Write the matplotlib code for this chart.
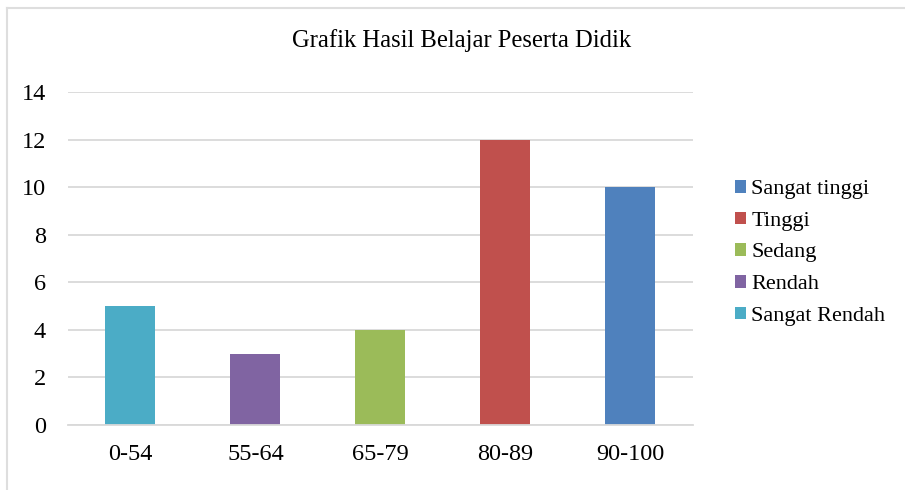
import numpy as np
import matplotlib
matplotlib.use('Agg')
import matplotlib.pyplot as plt
from matplotlib.lines import Line2D

plt.rcParams['font.family'] = ['Liberation Serif', 'DejaVu Serif']

kategori = ['0-54', '55-64', '65-79', '80-89', '90-100']
jumlah = [5, 3, 4, 12, 10]
predikat = ['Sangat Rendah', 'Rendah', 'Sedang', 'Tinggi', 'Sangat tinggi']
warna = ['#4BACC6', '#8064A2', '#9BBB59', '#C0504D', '#4F81BD']
y_ticks = [0, 2, 4, 6, 8, 10, 12, 14]


def grafik():
    fig = plt.figure(figsize=(9.05, 4.9), dpi=100)
    ax = fig.add_axes([0.0751, 0.1327, 0.6906, 0.6795])

    x = np.arange(len(kategori))
    bars = []
    for i in range(len(kategori)):
        b = ax.bar(x[i], jumlah[i], width=0.4, color=warna[i],
                   label=predikat[i], zorder=3)
        bars.append(b)

    ax.set_xlim(-0.5, len(kategori) - 0.5)
    ax.set_ylim(0, 14)
    ax.set_yticks(y_ticks)
    ax.set_xticks(x)
    ax.set_xticklabels(kategori)
    ax.tick_params(axis='both', length=0, labelsize=17.5, colors='black')
    ax.tick_params(axis='y', pad=16)
    ax.tick_params(axis='x', pad=14)

    ax.grid(axis='y', color='#d9d9d9', linewidth=1.3, zorder=0)
    for s in ['top', 'right', 'left']:
        ax.spines[s].set_visible(False)
    ax.spines['bottom'].set_color('#d9d9d9')
    ax.spines['bottom'].set_linewidth(1.3)
    ax.spines['bottom'].set_zorder(4)

    fig.text(0.5095, 0.917, 'Grafik Hasil Belajar Peserta Didik',
             ha='center', va='center', fontsize=17.7)

    # legenda dibalik: Sangat tinggi di atas
    fig.legend(handles=bars[::-1], labels=predikat[::-1],
               loc='center left', bbox_to_anchor=(0.812, 0.484),
               frameon=False, fontsize=16, handlelength=0.48,
               handleheight=0.5, handletextpad=0.25, labelspacing=0.56,
               borderpad=0, borderaxespad=0)

    # bingkai tipis kiri & atas
    fig.add_artist(Line2D([7 / 905, 1], [1 - 8 / 490, 1 - 8 / 490],
                          transform=fig.transFigure, color='#dedede', lw=1.5))
    fig.add_artist(Line2D([7 / 905, 7 / 905], [0, 1 - 8 / 490],
                          transform=fig.transFigure, color='#dedede', lw=1.5))

    plt.savefig('out.png', dpi=100)


if __name__ == '__main__':
    grafik()
